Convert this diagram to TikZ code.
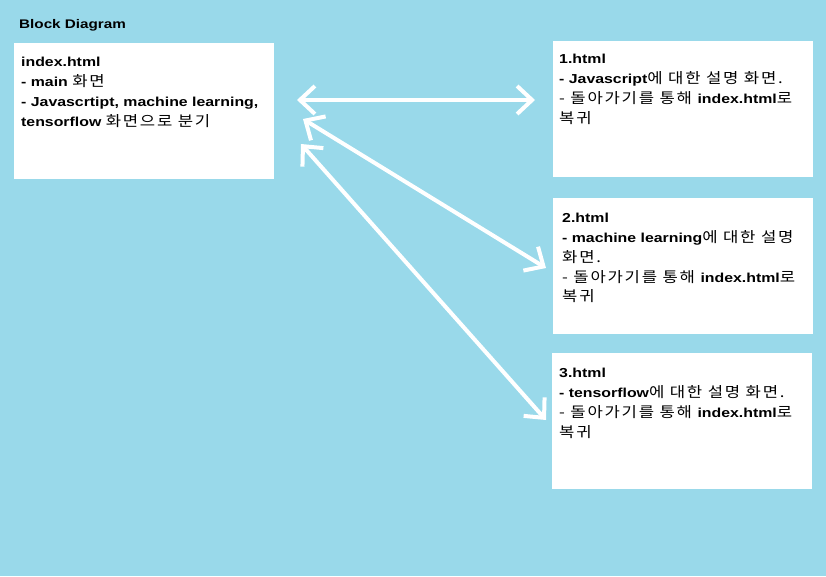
\documentclass[tikz,border=0pt]{standalone}
\usepackage{fontspec}
\setmainfont[FakeStretch=1.22]{Liberation Sans}
\newfontfamily\krfont[FakeStretch=1.15,LetterSpace=12]{Noto Sans CJK KR}
\newcommand{\kr}[1]{{\fontsize{14.5}{19.7}\krfont\mdseries #1}}
\usetikzlibrary{arrows.meta}
\definecolor{bgblue}{RGB}{153,217,234}
\tikzset{
  box/.style={draw=none, fill=white, minimum width=260pt, minimum height=136pt, inner sep=0pt, anchor=north west},
  txt/.style={anchor=north west, align=left, inner sep=0pt, font=\fontsize{13}{19.8}\selectfont\bfseries},
  link/.style={draw=white, line width=4pt, line cap=round, line join=round,
    {Straight Barb[length=15pt,width=28pt,line width=4pt]}-{Straight Barb[length=15pt,width=28pt,line width=4pt]}}
}
\begin{document}
\begin{tikzpicture}[x=1pt,y=-1pt]
\fill[bgblue] (0,0) rectangle (826,576);
\useasboundingbox (0,0) rectangle (826,576);
\node[txt, anchor=west, font=\fontsize{12.5}{14}\selectfont\bfseries] (title) at (19,25) {Block Diagram};
\node[box] (idx) at (14,43) {};
\node[box] (p1) at (553,41) {};
\node[box] (p2) at (553,198) {};
\node[box] (p3) at (552,353) {};
\node[txt] (idxt) at (21,57) {index.html\\- main \kr{화면}\\- Javascrtipt, machine learning,\\tensorflow \kr{화면으로 분기}};
\node[txt] (p1t) at (559,54) {1.html\\- Javascript\kr{에 대한 설명 화면.}\\\kr{- 돌아가기를 통해 }index.html\kr{로}\\\kr{복귀}};
\node[txt] (p2t) at (562,213) {2.html\\- machine learning\kr{에 대한 설명}\\\kr{화면.}\\\kr{- 돌아가기를 통해 }index.html\kr{로}\\\kr{복귀}};
\node[txt] (p3t) at (559,368) {3.html\\- tensorflow\kr{에 대한 설명 화면.}\\\kr{- 돌아가기를 통해 }index.html\kr{로}\\\kr{복귀}};
\coordinate (a1s) at (297,100);
\coordinate (a1e) at (535,100);
\coordinate (a2s) at (303,119);
\coordinate (a2e) at (546,268);
\coordinate (a3s) at (301,144);
\coordinate (a3e) at (546,420);
\draw[link] (a1s) -- (a1e);
\draw[link] (a2s) -- (a2e);
\draw[link] (a3s) -- (a3e);
\end{tikzpicture}
\end{document}
